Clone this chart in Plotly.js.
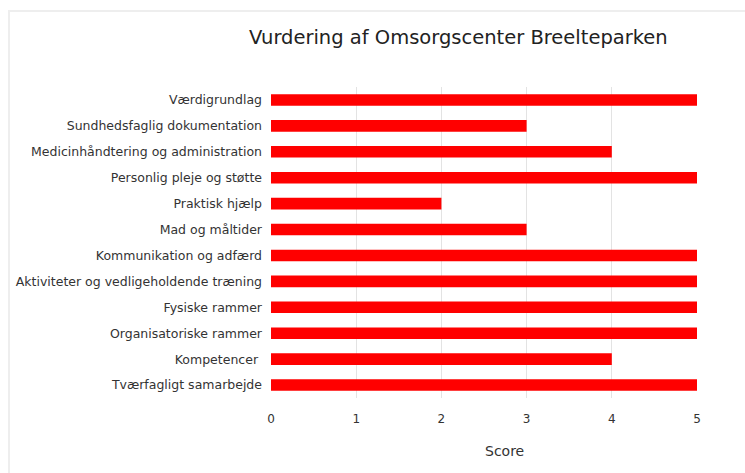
<!DOCTYPE html>
<html>
<head>
<meta charset="utf-8">
<script src="https://cdn.plot.ly/plotly-3.0.1.min.js"></script>
<style>
  body { margin: 0; background: #fff; }
  #frame { position: absolute; left: 8px; top: 10px; width: 745px; height: 470px;
           border-left: 2px solid #eeeeee; border-top: 2px solid #eeeeee; pointer-events: none; }
</style>
</head>
<body>
<div id="chart" style="width:745px;height:473px;"></div>
<div id="frame"></div>
<script>
  // Categories (top to bottom as in the chart)
  const categories = [
    'Værdigrundlag',
    'Sundhedsfaglig dokumentation',
    'Medicinhåndtering og administration',
    'Personlig pleje og støtte',
    'Praktisk hjælp',
    'Mad og måltider',
    'Kommunikation og adfærd',
    'Aktiviteter og vedligeholdende træning',
    'Fysiske rammer',
    'Organisatoriske rammer',
    'Kompetencer ',
    'Tværfagligt samarbejde'
  ];
  const scores = [5, 3, 4, 5, 2, 3, 5, 5, 5, 5, 4, 5];
  const tickValues = [0, 1, 2, 3, 4, 5];

  const font = 'DejaVu Sans, sans-serif';

  const bars = {
    type: 'bar',
    orientation: 'h',
    y: categories,
    x: scores,
    width: 0.45,
    marker: { color: '#ff0000' },
    hoverinfo: 'x+y'
  };

  const layout = {
    width: 745,
    height: 473,
    showlegend: false,
    paper_bgcolor: '#ffffff',
    plot_bgcolor: '#ffffff',
    margin: { l: 271, r: 48, t: 87, b: 75 },
    font: { family: font, size: 12, color: '#333333' },
    xaxis: {
      range: [0, 5],
      tickvals: tickValues,
      showgrid: true,
      gridcolor: '#e3e3e3',
      zeroline: false,
      showline: false,
      ticks: '',
      ticklabelstandoff: 12,
      tickfont: { size: 12, color: '#333333' },
      fixedrange: true
    },
    yaxis: {
      autorange: 'reversed',
      showgrid: false,
      zeroline: false,
      ticks: '',
      ticklabelstandoff: 8,
      tickfont: { size: 12.5, color: '#333333' },
      fixedrange: true
    },
    annotations: [
      {
        text: 'Vurdering af Omsorgscenter Breelteparken',
        xref: 'paper', yref: 'paper',
        x: 0.439, y: 1, yshift: 50,
        xanchor: 'center', yanchor: 'middle',
        showarrow: false,
        font: { family: font, size: 19.5, color: '#222222' }
      },
      {
        text: 'Score',
        xref: 'paper', yref: 'paper',
        x: 0.549, y: 0, yshift: -53,
        xanchor: 'center', yanchor: 'middle',
        showarrow: false,
        font: { family: font, size: 14, color: '#333333' }
      }
    ]
  };

  Plotly.newPlot('chart', [bars], layout, { displayModeBar: false, staticPlot: true });
</script>
</body>
</html>
